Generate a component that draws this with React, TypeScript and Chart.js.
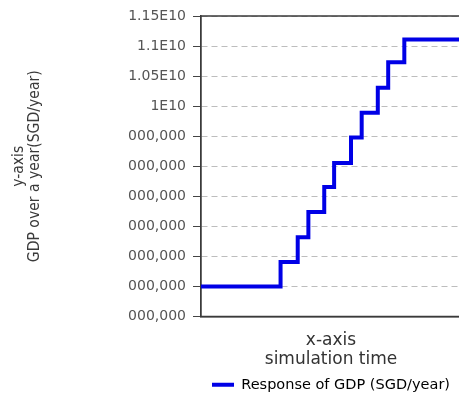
import React, { useEffect, useRef } from "react";
import { Chart, registerables } from "chart.js";

Chart.register(...registerables);

// simulation time of each point (arbitrary units)
const times = [0, 30.6, 37.2, 41.3, 47.4, 51.2, 57.7, 61.8, 68.0, 72.0, 78.2, 100];
// Response of GDP (SGD/year)
const gdp = [7.0e9, 7.405e9, 7.82e9, 8.24e9, 8.655e9, 9.055e9, 9.478e9, 9.89e9, 10.305e9, 10.73e9, 11.11e9, 11.11e9];
// y tick labels from bottom to top (as shown, left part cropped)
const yTickLabels = ["000,000", "000,000", "000,000", "000,000", "000,000", "000,000", "000,000", "1E10", "1.05E10", "1.1E10", "1.15E10"];
const yMin = 6.5e9;
const yMax = 1.15e10;
const yStep = 5e8;
const seriesName = "Response of GDP (SGD/year)";
const yTitle = ["y-axis", "GDP over a year(SGD/year)"];
const xTitle = ["x-axis", "simulation time"];

function pickYTitleFont() {
  const c = document.createElement("canvas").getContext("2d");
  const fallback = { family: "'Liberation Sans'", size: 15.5 };
  if (!c) return fallback;
  const probe = "GDP over a year";
  c.font = "18px monospace";
  const base = c.measureText(probe).width;
  const candidates = ["Liberation Sans Narrow", "DejaVu Sans Condensed", "Roboto Condensed", "Open Sans Condensed"];
  for (const f of candidates) {
    c.font = `18px '${f}', monospace`;
    const w = c.measureText(probe).width;
    if (Math.abs(w - base) > 0.5) {
      c.font = `18px '${f}'`;
      const full = c.measureText("GDP over a year(SGD/year)").width;
      const size = Math.min(18, (18 * 192) / full);
      return { family: `'${f}'`, size };
    }
  }
  return fallback;
}

const framePlugin = {
  id: "frame",
  beforeDatasetsDraw(chart: any) {
    const { ctx, chartArea } = chart;
    ctx.save();
    ctx.strokeStyle = "#3a3a3a";
    ctx.lineWidth = 1.5;
    ctx.strokeRect(chartArea.left - 0.25, chartArea.top, chartArea.right - chartArea.left, chartArea.bottom - chartArea.top);
    ctx.restore();
  },
};

export default function App() {
  const ref = useRef<HTMLCanvasElement | null>(null);
  useEffect(() => {
    if (!ref.current) return;
    const tf = pickYTitleFont();
    const chart = new Chart(ref.current, {
      type: "line",
      data: {
        datasets: [
          {
            label: seriesName,
            data: times.map((t, i) => ({ x: t, y: gdp[i] })),
            borderColor: "#0000e6",
            backgroundColor: "#0000e6",
            borderWidth: 4,
            pointRadius: 0,
            stepped: "before",
            fill: false,
          },
        ],
      },
      options: {
        animation: false,
        responsive: false,
        devicePixelRatio: 1,
        layout: { padding: { top: 16, right: 1, bottom: 0, left: 0 } },
        scales: {
          x: {
            type: "linear",
            min: 0,
            max: 100,
            ticks: { display: false },
            grid: { display: false, drawTicks: false },
            border: { display: true, color: "#3a3a3a", width: 1.5 },
            title: {
              display: true,
              text: xTitle,
              color: "#333",
              font: { family: "'DejaVu Sans'", size: 17, lineHeight: "19px" as any },
              padding: { top: 15, bottom: 2 },
            },
          },
          y: {
            min: yMin,
            max: yMax,
            afterFit: (scale: any) => {
              scale.width = 201;
            },
            ticks: {
              stepSize: yStep,
              padding: 7,
              color: "#555",
              font: { family: "'DejaVu Sans'", size: 14 },
              callback: (_v: any, i: number) => yTickLabels[i],
            },
            grid: {
              color: "#bdbdbd",
              lineWidth: 1,
              tickLength: 8,
              tickColor: "#444",
              tickWidth: 1,
              tickBorderDash: [],
            } as any,
            border: { display: true, color: "#3a3a3a", width: 1.5, dash: [6, 4] } as any,
            title: {
              display: true,
              text: yTitle,
              color: "#3a3a3a",
              font: { family: tf.family, size: tf.size, lineHeight: "16px" as any },
              padding: { top: 11, bottom: 0 },
            },
          },
        },
        plugins: {
          legend: {
            position: "bottom",
            fullSize: false,
            labels: {
              color: "#333",
              font: { family: "'DejaVu Sans'", size: 14.5 },
              usePointStyle: true,
              pointStyleWidth: 22,
              boxHeight: 8,
              padding: 6,
              generateLabels: () => [
                {
                  text: seriesName,
                  fillStyle: "#0000e6",
                  strokeStyle: "#0000e6",
                  lineWidth: 4,
                  pointStyle: "line",
                  datasetIndex: 0,
                  hidden: false,
                } as any,
              ],
            },
          },
          tooltip: { enabled: false },
        },
      },
      plugins: [framePlugin],
    });
    return () => chart.destroy();
  }, []);
  return (
    <div style={{ position: "fixed", left: 0, top: 0, width: 459, height: 397, overflow: "hidden", background: "#fff" }}>
      <canvas ref={ref} width={462} height={402} style={{ display: "block", width: 462, height: 402 }} />
    </div>
  );
}
